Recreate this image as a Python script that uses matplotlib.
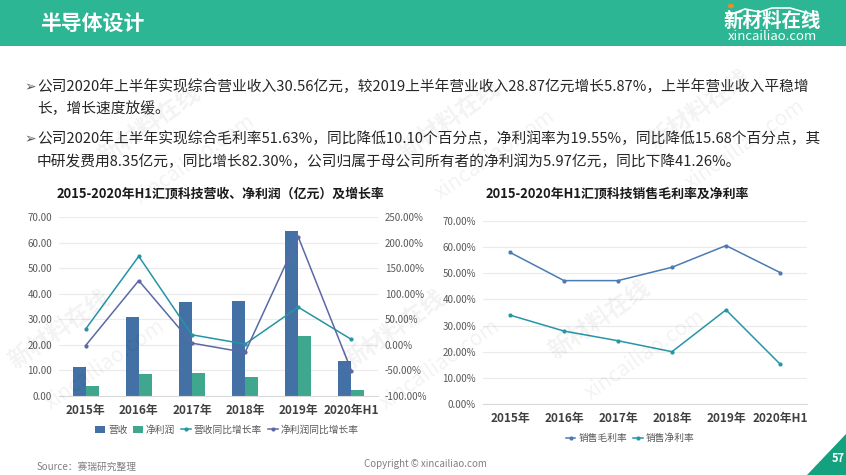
import matplotlib
matplotlib.use('Agg')
import matplotlib.pyplot as plt
from matplotlib.patches import Rectangle, Polygon, Patch
from matplotlib.lines import Line2D
import numpy as np

plt.rcParams['font.family'] = ['Noto Sans CJK SC', 'DejaVu Sans']

# ---------------- data ----------------
categories = ['2015年', '2016年', '2017年', '2018年', '2019年', '2020年H1']
revenue = [11.2, 30.8, 36.7, 37.1, 64.4, 13.7]
net_profit = [3.9, 8.6, 9.0, 7.4, 23.4, 2.3]
revenue_yoy = [30.8, 173.2, 19.7, 1.5, 73.7, 10.6]
profit_yoy = [-1.5, 125.7, 3.4, -14.8, 211.0, -50.6]
gross_margin = [58.0, 47.2, 47.2, 52.3, 60.6, 50.3]
net_margin = [34.0, 27.9, 24.2, 20.0, 36.0, 15.3]
left_ticks = list(range(0, 71, 10))
right_ticks = list(range(-100, 251, 50))
margin_ticks = list(range(0, 71, 10))

bullet_lines = [
    '公司2020年上半年实现综合营业收入30.56亿元，较2019上半年营业收入28.87亿元增长5.87%，上半年营业收入平稳增',
    '长，增长速度放缓。',
    '公司2020年上半年实现综合毛利率51.63%，同比降低10.10个百分点，净利润率为19.55%，同比降低15.68个百分点，其',
    '中研发费用8.35亿元，同比增长82.30%，公司归属于母公司所有者的净利润为5.97亿元，同比下降41.26%。',
]

# ---------------- style ----------------
C_HEAD = '#2db693'
C_TRI = '#14a27e'
C_REV = '#4371a6'
C_NP = '#40a78f'
C_REVY = '#2494a6'
C_NPY = '#5a69a6'
C_GM = '#4b7bb3'
C_NM = '#2596a6'
C_GRID = '#ebebeb'
C_TICK = '#595959'
C_CAT = '#404040'

W, H = 846, 475
fig = plt.figure(figsize=(W / 100, H / 100), dpi=100)
fig.patch.set_facecolor('white')


def fx(x):
    return x / W


def fy(y):
    return 1 - y / H


# header band
fig.patches.append(Rectangle((0, fy(46)), 1, 46 / H, transform=fig.transFigure,
                             facecolor=C_HEAD, edgecolor='none', zorder=0))
fig.text(fx(40), fy(23), '半导体设计', fontsize=15, weight='bold', color='white',
         va='center', ha='left')
# logo
roof = Line2D([fx(727), fx(745), fx(760), fx(772), fx(790), fx(818)],
              [fy(16), fy(9), fy(12), fy(8), fy(8), fy(16)],
              transform=fig.transFigure, color='white', lw=1.2)
fig.lines.append(roof)
fig.patches.append(plt.Circle((fx(731), fy(6)), 2.5 / W, transform=fig.transFigure,
                              color='#f08a24'))
fig.text(fx(772), fy(21), '新材料在线', fontsize=14, weight='bold', color='white',
         va='center', ha='center')
fig.text(fx(772), fy(37), 'xincailiao.com', fontsize=9.5, color='white',
         va='center', ha='center')

# watermarks
wm = [(150, 125), (450, 120), (700, 110), (395, 330), (600, 320), (60, 330)]
for (x, y) in wm:
    fig.text(fx(x), fy(y), '新材料在线', fontsize=17, weight='bold', color='#000000',
             alpha=0.05, rotation=35, ha='center', va='center')
    fig.text(fx(x + 45), fy(y + 35), 'xincailiao.com', fontsize=15, color='#000000',
             alpha=0.05, rotation=35, ha='center', va='center')

# bullets and paragraph text
line_y = [87, 109, 139, 162]
for i, (t, y) in enumerate(zip(bullet_lines, line_y)):
    if i in (0, 2):
        fig.text(fx(24), fy(y), '➢', fontsize=10, color='#595959', va='center', ha='left',
                 family=['DejaVu Sans'])
    fig.text(fx(37), fy(y), t, fontsize=10.6, color='#262626', va='center', ha='left')

# ---------------- left chart ----------------
x = np.arange(len(categories))
ax1 = fig.add_axes([fx(59), fy(396), (378 - 59) / W, (396 - 217) / H])
bw = 0.245
ax1.bar(x - bw / 2, revenue, bw, color=C_REV, zorder=2)
ax1.bar(x + bw / 2, net_profit, bw, color=C_NP, zorder=2)
ax1.set_xlim(-0.5, len(categories) - 0.5)
ax1.set_ylim(0, 70)
ax1.set_yticks(left_ticks)
ax1.set_yticklabels([f'{v:.2f}' for v in left_ticks])
ax1.yaxis.grid(True, color=C_GRID, lw=0.8)
ax1.set_axisbelow(True)
ax1.set_xticks(x)
ax1.set_xticklabels(categories)
for s in ['top', 'left', 'right']:
    ax1.spines[s].set_visible(False)
ax1.spines['bottom'].set_color('#d9d9d9')
ax1.tick_params(axis='y', length=0, pad=5, labelsize=7, labelcolor=C_TICK)
ax1.tick_params(axis='x', length=0, pad=6, labelsize=8.5, labelcolor=C_CAT)
for lab in ax1.get_xticklabels():
    lab.set_fontweight('bold')

ax2 = ax1.twinx()
ax2.plot(x, revenue_yoy, color=C_REVY, lw=1.1, marker='o', ms=2, zorder=3)
ax2.plot(x, profit_yoy, color=C_NPY, lw=1.1, marker='o', ms=2, zorder=3)
ax2.set_ylim(-100, 250)
ax2.set_yticks(right_ticks)
ax2.set_yticklabels([f'{v:.2f}%' for v in right_ticks])
for s in ['top', 'left', 'right', 'bottom']:
    ax2.spines[s].set_visible(False)
ax2.tick_params(axis='y', length=0, pad=5, labelsize=7, labelcolor=C_TICK)

fig.text(fx(220), fy(194), '2015-2020年H1汇顶科技营收、净利润（亿元）及增长率', fontsize=9.3,
         weight='bold', color='#1a1a1a', ha='center', va='center')

h1 = [Patch(facecolor=C_REV), Patch(facecolor=C_NP),
      Line2D([], [], color=C_REVY, lw=1.1, marker='o', ms=2),
      Line2D([], [], color=C_NPY, lw=1.1, marker='o', ms=2)]
fig.legend(h1, ['营收', '净利润', '营收同比增长率', '净利润同比增长率'], loc='center',
           bbox_to_anchor=(fx(227), fy(430)), ncol=4, frameon=False, fontsize=7,
           handlelength=1.0, handleheight=0.8, handletextpad=0.3, columnspacing=0.6,
           labelcolor=C_TICK)

# ---------------- right chart ----------------
ax3 = fig.add_axes([fx(483), fy(404), (807 - 483) / W, (404 - 221) / H])
ax3.plot(x, gross_margin, color=C_GM, lw=1.1, marker='o', ms=2)
ax3.plot(x, net_margin, color=C_NM, lw=1.1, marker='o', ms=2)
ax3.set_xlim(-0.5, len(categories) - 0.5)
ax3.set_ylim(0, 70)
ax3.set_yticks(margin_ticks)
ax3.set_yticklabels([f'{v:.2f}%' for v in margin_ticks])
ax3.yaxis.grid(True, color=C_GRID, lw=0.8)
ax3.set_axisbelow(True)
ax3.set_xticks(x)
ax3.set_xticklabels(categories)
for s in ['top', 'left', 'right']:
    ax3.spines[s].set_visible(False)
ax3.spines['bottom'].set_color('#d9d9d9')
ax3.tick_params(axis='y', length=0, pad=5, labelsize=7, labelcolor=C_TICK)
ax3.tick_params(axis='x', length=0, pad=6, labelsize=8.5, labelcolor=C_CAT)
for lab in ax3.get_xticklabels():
    lab.set_fontweight('bold')

fig.text(fx(617), fy(194), '2015-2020年H1汇顶科技销售毛利率及净利率', fontsize=9.3,
         weight='bold', color='#1a1a1a', ha='center', va='center')
h2 = [Line2D([], [], color=C_GM, lw=1.1, marker='o', ms=2),
      Line2D([], [], color=C_NM, lw=1.1, marker='o', ms=2)]
fig.legend(h2, ['销售毛利率', '销售净利率'], loc='center', bbox_to_anchor=(fx(630), fy(438)),
           ncol=2, frameon=False, fontsize=7, handlelength=1.0, handletextpad=0.3,
           columnspacing=0.6, labelcolor=C_TICK)

# ---------------- footer ----------------
fig.text(fx(37), fy(467), 'Source：赛瑞研究整理', fontsize=7, style='italic', color='#7f7f7f',
         ha='left', va='center')
fig.text(fx(425), fy(464), 'Copyright © xincailiao.com', fontsize=7, color='#7f7f7f',
         ha='center', va='center')
fig.patches.append(Polygon([[fx(807), fy(475)], [fx(846), fy(434)], [fx(846), fy(475)]],
                           closed=True, transform=fig.transFigure, facecolor=C_TRI,
                           edgecolor='none'))
fig.text(fx(838), fy(458), '57', fontsize=8, weight='bold', color='white',
         ha='center', va='center')

fig.savefig('out.png', dpi=100)
